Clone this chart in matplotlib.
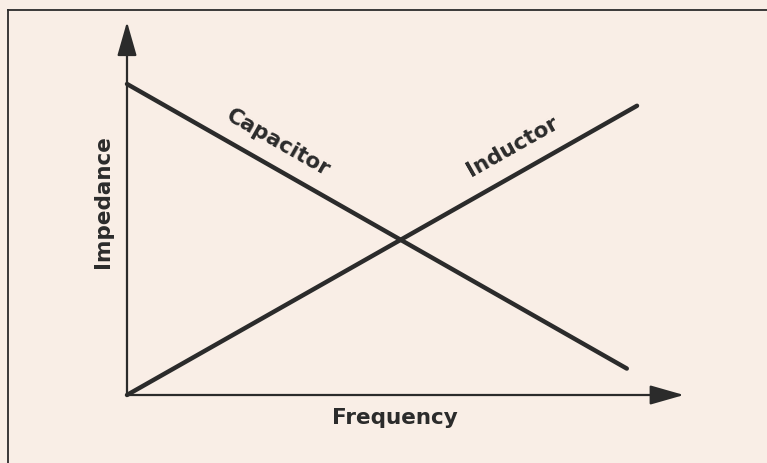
import matplotlib.pyplot as plt
from matplotlib.lines import Line2D

# impedance vs frequency (arbitrary units)
freq_inductor = [0, 10]
imp_inductor = [0, 9.3]
freq_capacitor = [0, 9.8]
imp_capacitor = [10, 0.85]

bg = '#f9eee6'
ink = '#2b2b2b'

plt.rcParams['font.family'] = ['DejaVu Sans']

fig = plt.figure(figsize=(7.67, 4.64), dpi=100, facecolor=bg)
# axes box: origin at (127, 396) px, top-right at (637, 85) px
ax = fig.add_axes([127 / 767, (464 - 396) / 464, 510 / 767, 311 / 464])
ax.set_facecolor(bg)
ax.patch.set_alpha(0)
ax.set_xlim(0, 10)
ax.set_ylim(0, 10)
for s in ax.spines.values():
    s.set_visible(False)
ax.set_xticks([])
ax.set_yticks([])

# axes with arrow heads
arrow = dict(arrowstyle='-|>,head_length=2.1,head_width=0.6', mutation_scale=10,
             color=ink, lw=1.6, shrinkA=0, shrinkB=0)
ax.annotate('', xy=(0, 12.0), xytext=(0, 0), arrowprops=arrow, annotation_clip=False)
ax.annotate('', xy=(10.92, 0), xytext=(0, 0), arrowprops=arrow, annotation_clip=False)

ax.plot(freq_capacitor, imp_capacitor, color=ink, lw=3.2, solid_capstyle='round', clip_on=False)
ax.plot(freq_inductor, imp_inductor, color=ink, lw=3.2, solid_capstyle='round', clip_on=False)

ax.text(2.96, 8.13, 'Capacitor', rotation=-29.6, ha='center', va='center',
        fontsize=15.5, fontweight='bold', color=ink, rotation_mode='anchor')
ax.text(7.55, 8.02, 'Inductor', rotation=29.5, ha='center', va='center',
        fontsize=15.5, fontweight='bold', color=ink, rotation_mode='anchor')

ax.text(-0.047, 0.624, 'Impedance', transform=ax.transAxes, rotation=90,
        ha='center', va='center', fontsize=15.5, fontweight='bold', color=ink)
ax.text(0.525, -0.071, 'Frequency', transform=ax.transAxes,
        ha='center', va='center', fontsize=15.5, fontweight='bold', color=ink)

# frame of the original figure (left and top edges)
fig.add_artist(Line2D([8 / 767, 8 / 767], [0, 1 - 11 / 464], color=ink, lw=1.3))
fig.add_artist(Line2D([8 / 767, 1], [1 - 11 / 464, 1 - 11 / 464], color=ink, lw=1.3))

fig.savefig('out.png', dpi=100, facecolor=bg)
